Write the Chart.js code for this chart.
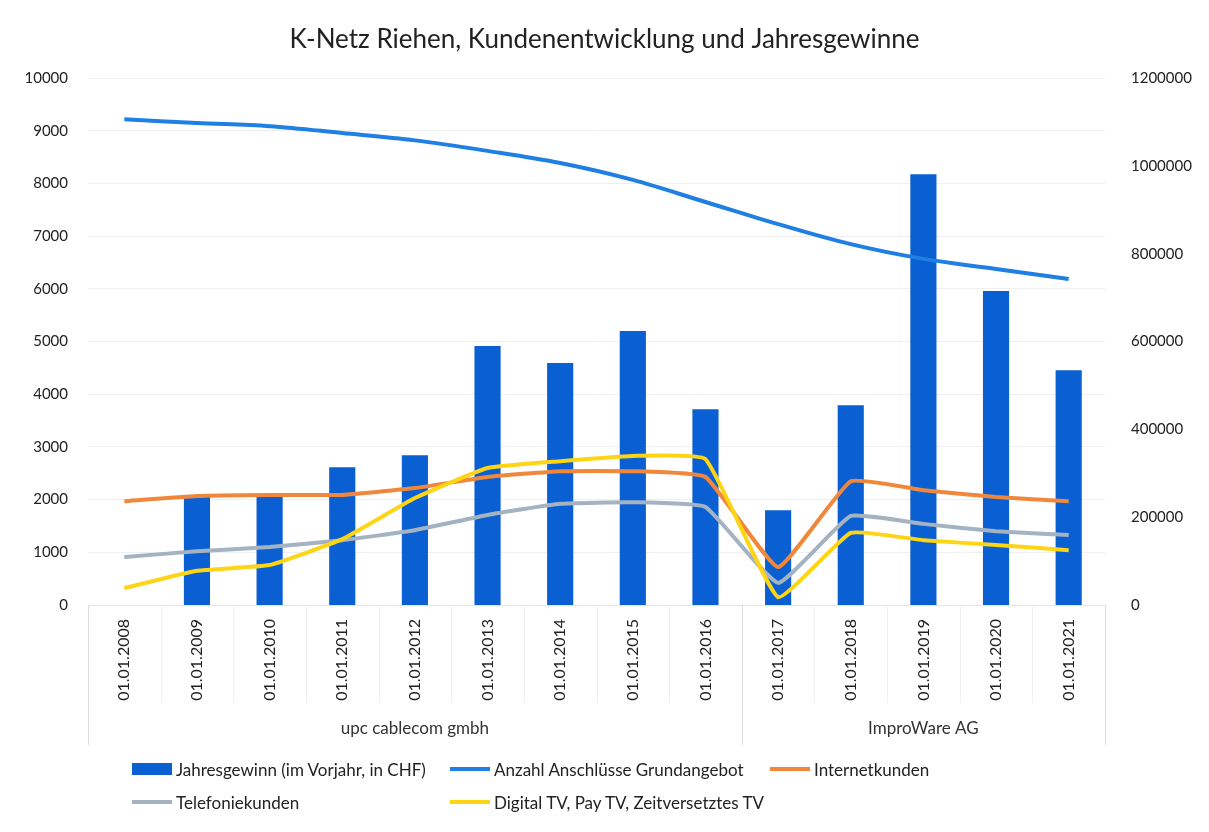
<!DOCTYPE html>
<html>
<head>
<meta charset="utf-8">
<script src="https://cdn.jsdelivr.net/npm/chart.js@4.4.1/dist/chart.umd.min.js"></script>
<style>
  body { margin: 0; background: #fff; font-family: Lato, sans-serif; }
  #wrap { position: relative; width: 1209px; height: 832px; }
  #legend { position: absolute; left: 0; top: 0; width: 1209px; height: 832px; pointer-events: none; }
  .item { position: absolute; display: flex; align-items: center; font-size: 17px; color: #222; white-space: nowrap; }
  .mark { width: 40px; margin-right: 4px; }
</style>
</head>
<body>
<div id="wrap">
  <canvas id="chart" width="1209" height="832"></canvas>
  <div id="legend"></div>
</div>
<script>
var labels = ["01.01.2008", "01.01.2009", "01.01.2010", "01.01.2011", "01.01.2012", "01.01.2013", "01.01.2014",
              "01.01.2015", "01.01.2016", "01.01.2017", "01.01.2018", "01.01.2019", "01.01.2020", "01.01.2021"];

var groupNames = ["upc cablecom gmbh", "ImproWare AG"];
var groupSizes = [9, 5];

// right axis (CHF)
var jahresgewinn = [null, 250000, 250000, 314000, 341000, 590000, 551000, 624000, 446000, 216000, 455000, 981000, 715000, 535000];

// left axis
var anschluesse = [9220, 9150, 9090, 8960, 8820, 8620, 8390, 8070, 7650, 7230, 6850, 6570, 6380, 6190];
var internet    = [1970, 2070, 2090, 2090, 2220, 2430, 2540, 2540, 2430, 720, 2350, 2180, 2050, 1970];
var telefonie   = [910, 1020, 1100, 1230, 1420, 1710, 1920, 1950, 1860, 420, 1690, 1540, 1400, 1330];
var digitalTv   = [320, 650, 760, 1250, 2030, 2600, 2730, 2830, 2770, 150, 1370, 1230, 1140, 1040];

var leftTicks = [0, 10000, 1000];
var rightTicks = [0, 1200000, 200000];

var font = "Lato";

var groupPlugin = {
    id: "groups",
    afterDraw: function(chart) {
        var ctx = chart.ctx;
        var xs = chart.scales.x;
        var area = chart.chartArea;
        ctx.save();
        // faint lines between categories
        ctx.strokeStyle = "#f0f0f0";
        ctx.lineWidth = 1;
        for (var i = 0; i < labels.length - 1; i++) {
            var mx = Math.round((xs.getPixelForValue(i) + xs.getPixelForValue(i + 1)) / 2) + 0.5;
            ctx.beginPath();
            ctx.moveTo(mx, area.bottom);
            ctx.lineTo(mx, area.bottom + 98);
            ctx.stroke();
        }
        // group separators + names
        var start = 0;
        var edges = [area.left];
        for (var g = 0; g < groupSizes.length; g++) {
            var end = start + groupSizes[g] - 1;
            var right = end < labels.length - 1 ? (xs.getPixelForValue(end) + xs.getPixelForValue(end + 1)) / 2 : area.right;
            edges.push(right);
            var left = edges[g];
            ctx.fillStyle = "#333";
            ctx.font = "17px " + font;
            ctx.textAlign = "center";
            ctx.textBaseline = "middle";
            ctx.fillText(groupNames[g], (left + right) / 2, area.bottom + 124);
            start = end + 1;
        }
        ctx.strokeStyle = "#dcdcdc";
        edges.forEach(function(e) {
            var ex = Math.round(e) + 0.5;
            ctx.beginPath();
            ctx.moveTo(ex, area.bottom);
            ctx.lineTo(ex, area.bottom + 140);
            ctx.stroke();
        });
        ctx.restore();
    }
};

var datasets = [
    {
        type: "bar", label: "Jahresgewinn (im Vorjahr, in CHF)", data: jahresgewinn, yAxisID: "y1",
        backgroundColor: "#0a5fd2", barPercentage: 0.36, categoryPercentage: 1, order: 10
    },
    {
        type: "line", label: "Anzahl Anschlüsse Grundangebot", data: anschluesse, yAxisID: "y",
        borderColor: "#1f7fe3", borderWidth: 4, pointRadius: 0, tension: 0.35, order: 4
    },
    {
        type: "line", label: "Internetkunden", data: internet, yAxisID: "y",
        borderColor: "#f0873a", borderWidth: 4, pointRadius: 0, tension: 0.12, order: 3
    },
    {
        type: "line", label: "Telefoniekunden", data: telefonie, yAxisID: "y",
        borderColor: "#a4b3c2", borderWidth: 4, pointRadius: 0, tension: 0.12, order: 2
    },
    {
        type: "line", label: "Digital TV, Pay TV, Zeitversetztes TV", data: digitalTv, yAxisID: "y",
        borderColor: "#fdd514", borderWidth: 4, pointRadius: 0, tension: 0.12, order: 1
    }
];

var ctx = document.getElementById("chart").getContext("2d");
var myChart = new Chart(ctx, {
    type: "bar",
    data: { labels: labels, datasets: datasets },
    plugins: [groupPlugin],
    options: {
        responsive: false,
        devicePixelRatio: 1,
        animation: false,
        layout: { padding: 0 },
        plugins: {
            legend: { display: false },
            tooltip: { enabled: false },
            title: {
                display: true,
                text: "K-Netz Riehen, Kundenentwicklung und Jahresgewinne",
                color: "#222",
                font: { family: font, size: 26, weight: "normal" },
                padding: { top: 24, bottom: 23 }
            }
        },
        scales: {
            x: {
                offset: true,
                grid: { display: false },
                border: { display: true, color: "#e4e4e4" },
                ticks: {
                    autoSkip: false, maxRotation: 90, minRotation: 90, padding: 6,
                    color: "#222", font: { family: font, size: 16 }
                },
                afterFit: function(s) { s.height = 227; }
            },
            y: {
                position: "left",
                min: leftTicks[0], max: leftTicks[1],
                grid: { color: "#efefef", drawTicks: false },
                border: { display: false },
                ticks: {
                    stepSize: leftTicks[2], padding: 20, color: "#222",
                    font: { family: font, size: 15 },
                    callback: function(v) { return String(v); }
                },
                afterFit: function(s) { s.width = 88; }
            },
            y1: {
                position: "right",
                min: rightTicks[0], max: rightTicks[1],
                grid: { display: false },
                border: { display: false },
                ticks: {
                    stepSize: rightTicks[2], padding: 18, color: "#222",
                    font: { family: font, size: 15 },
                    callback: function(v) { return String(v); }
                },
                afterFit: function(s) { s.width = 104; }
            }
        }
    }
});

// legend, 3 columns x 2 rows like the original
var legendPos = [[132, 769], [450, 769], [770, 769], [132, 802], [450, 802]];
var legendEl = document.getElementById("legend");
datasets.forEach(function(ds, i) {
    var item = document.createElement("div");
    item.className = "item";
    item.style.left = legendPos[i][0] + "px";
    item.style.top = (legendPos[i][1] - 11) + "px";
    item.style.height = "22px";
    var mark = document.createElement("span");
    mark.className = "mark";
    if (ds.type === "bar") {
        mark.style.height = "12px";
        mark.style.background = ds.backgroundColor;
    } else {
        mark.style.height = "4px";
        mark.style.background = ds.borderColor;
    }
    var txt = document.createElement("span");
    txt.textContent = ds.label;
    item.appendChild(mark);
    item.appendChild(txt);
    legendEl.appendChild(item);
});
</script>
</body>
</html>
